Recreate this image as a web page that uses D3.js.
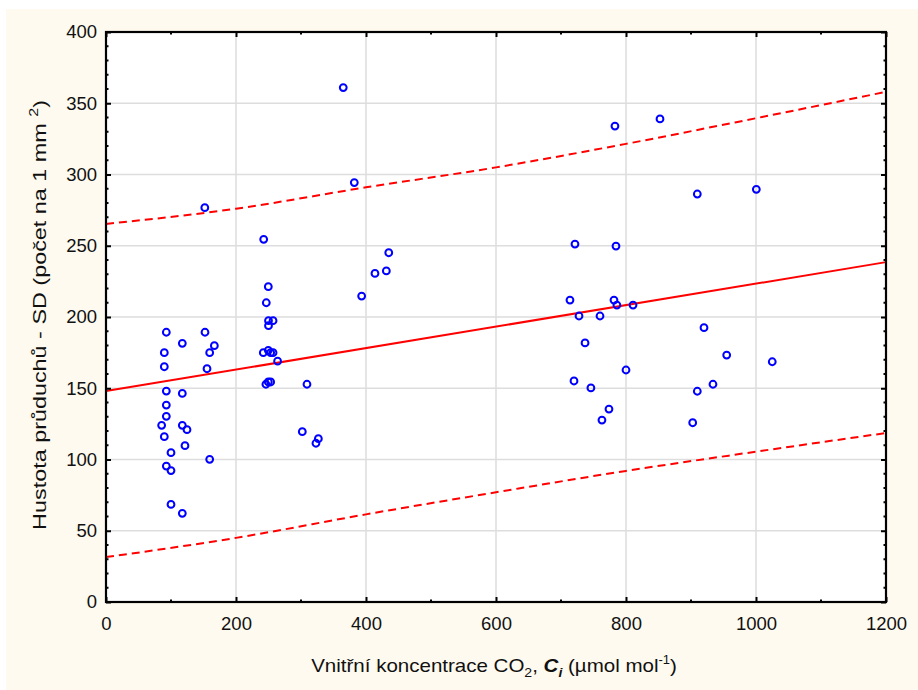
<!DOCTYPE html>
<html><head><meta charset="utf-8">
<script src="https://cdn.jsdelivr.net/npm/d3@7"></script>
<style>
html,body{margin:0;padding:0;background:#fff;}
svg{display:block;}
</style></head>
<body>
<svg id="chart" width="918" height="690"></svg>
<script>
// ---- data ----
const ciValues = [85.6,89.7,89.7,89.7,92.8,92.8,92.8,92.8,92.8,100,100,100,117.4,117.4,117.4,124.6,121.5,117.4,152,152.3,155.4,159.5,166.7,159.5,
  242.6,249.7,246.6,250,257,250,242,249.7,253.3,257,264,246,249.7,253.3,309.2,302,326.7,323,
  365,382,393.3,413.8,431.3,435,
  713.8,721.5,784.6,727.7,760,781.5,786,810.8,737,720,746,800,773.8,763,783,852.3,
  909.7,1000.5,920,954.9,1025,933.8,909.7,902.6];
const sdValues = [124,175,165.1,116,189.3,148,138.2,130.3,95.4,104.8,92.2,68.5,181.5,146.4,124,120.9,109.7,62.2,276.7,189.3,163.7,175,179.9,100.1,
  254.5,221.3,210,197.4,197.4,193.9,175,176.6,175,175,169,152.8,154.4,154.4,152.8,119.5,114.6,111.4,
  361,294.3,214.7,230.6,232.3,245.1,
  211.9,251.2,249.8,200.7,200.7,211.9,208.4,208.4,181.8,155.1,150.2,162.8,135.4,127.7,334,339,
  286.3,289.6,192.5,173.3,168.6,152.8,147.9,125.8];
const fitX = [0, 1200];
const fitY = [148, 238.5];
const bandX = [0, 200, 400, 600, 800, 1000, 1200];
const bandUpper = [265.3, 276, 291, 305, 321.5, 339.5, 358];
const bandLower = [31.5, 45, 61.5, 77, 92, 105.5, 118.6];
const xTicks = [0, 200, 400, 600, 800, 1000, 1200];
const yTicks = [0, 50, 100, 150, 200, 250, 300, 350, 400];

// ---- layout ----
const svg = d3.select("#chart");
const L = 106, R = 886, T = 32, B = 602;
const font = "'Liberation Sans', Arial, sans-serif";

svg.append("rect").attr("x", 6).attr("y", 9).attr("width", 912).attr("height", 681).attr("fill", "#fefaef");

const x = d3.scaleLinear().domain([0, 1200]).range([L, R]);
const y = d3.scaleLinear().domain([0, 400]).range([B, T]);

svg.append("rect").attr("x", L).attr("y", T).attr("width", R - L).attr("height", B - T).attr("fill", "#fff");

// grid
const grid = svg.append("g").attr("stroke", "#dddddd").attr("stroke-width", 1.5);
grid.selectAll("line.gx").data(xTicks.slice(1, -1)).join("line")
  .attr("x1", d => x(d)).attr("x2", d => x(d)).attr("y1", T).attr("y2", B);
grid.selectAll("line.gy").data(yTicks.slice(1, -1)).join("line")
  .attr("y1", d => y(d)).attr("y2", d => y(d)).attr("x1", L).attr("x2", R);

// bands & fit
const bandLine = d3.line().x((d, i) => x(bandX[i])).y(d => y(d)).curve(d3.curveMonotoneX);
svg.append("path").attr("d", bandLine(bandUpper)).attr("fill", "none")
  .attr("stroke", "#ff0000").attr("stroke-width", 2).attr("stroke-dasharray", "8,5");
svg.append("path").attr("d", bandLine(bandLower)).attr("fill", "none")
  .attr("stroke", "#ff0000").attr("stroke-width", 2).attr("stroke-dasharray", "8,5");
svg.append("path").attr("d", d3.line().x((d, i) => x(fitX[i])).y(d => y(d))(fitY))
  .attr("fill", "none").attr("stroke", "#ff0000").attr("stroke-width", 2);

// points
svg.append("g").selectAll("circle").data(ciValues).join("circle")
  .attr("cx", d => x(d)).attr("cy", (d, i) => y(sdValues[i])).attr("r", 3.4)
  .attr("fill", "none").attr("stroke", "#0000ff").attr("stroke-width", 2);

// axes
function styleAxis(g) {
  g.select(".domain").remove();
  g.selectAll(".tick line").attr("stroke", "#000").attr("stroke-width", 2);
  g.selectAll("text").attr("font-family", font).attr("font-size", 18.5).attr("fill", "#111");
}
const minorX = d3.range(100, 1200, 200);
const minorY = d3.range(0, 401, 10).filter(v => v % 50 !== 0);

svg.append("g").attr("transform", `translate(0,${B})`)
  .call(d3.axisBottom(x).tickValues(xTicks).tickFormat(d3.format("d")).tickSizeInner(-5).tickSizeOuter(0).tickPadding(15))
  .call(styleAxis);
svg.append("g").attr("transform", `translate(0,${T})`)
  .call(d3.axisTop(x).tickValues(xTicks).tickFormat("").tickSizeInner(-5).tickSizeOuter(0))
  .call(styleAxis);
svg.append("g").attr("transform", `translate(${L},0)`)
  .call(d3.axisLeft(y).tickValues(yTicks).tickFormat(d3.format("d")).tickSizeInner(-5).tickSizeOuter(0).tickPadding(9))
  .call(styleAxis);
svg.append("g").attr("transform", `translate(${R},0)`)
  .call(d3.axisRight(y).tickValues(yTicks).tickFormat("").tickSizeInner(-5).tickSizeOuter(0))
  .call(styleAxis);
// minor ticks
const mt = svg.append("g").attr("stroke", "#000").attr("stroke-width", 2);
minorX.forEach(v => {
  mt.append("line").attr("x1", x(v)).attr("x2", x(v)).attr("y1", B).attr("y2", B - 2.5);
  mt.append("line").attr("x1", x(v)).attr("x2", x(v)).attr("y1", T).attr("y2", T + 2.5);
});
minorY.forEach(v => {
  mt.append("line").attr("y1", y(v)).attr("y2", y(v)).attr("x1", L).attr("x2", L + 2.5);
  mt.append("line").attr("y1", y(v)).attr("y2", y(v)).attr("x1", R).attr("x2", R - 2.5);
});

// frame
svg.append("rect").attr("x", L).attr("y", T).attr("width", R - L).attr("height", B - T)
  .attr("fill", "none").attr("stroke", "#000").attr("stroke-width", 2.2);

// titles
const xg = svg.append("g");
const xt = xg.append("text").attr("x", 0).attr("y", 0).attr("text-anchor", "middle")
  .attr("font-family", font).attr("font-size", 19).attr("fill", "#111");
xt.append("tspan").text("Vnitřní koncentrace CO");
xt.append("tspan").attr("font-size", 13).attr("dy", 5).text("2");
xt.append("tspan").attr("dy", -5).text(", ");
xt.append("tspan").attr("font-weight", "bold").attr("font-style", "italic").text("C");
xt.append("tspan").attr("font-weight", "bold").attr("font-style", "italic").attr("font-size", 13).attr("dy", 5).text("i");
xt.append("tspan").attr("dy", -5).text(" (µmol mol");
xt.append("tspan").attr("font-size", 12).attr("dy", -8).text("-1");
xt.append("tspan").attr("dy", 8).text(")");
const xw = xt.node().getBBox().width;
xg.attr("transform", `translate(494,672) scale(${366 / xw},1)`);

const yg = svg.append("g");
const yt = yg.append("text").attr("x", 0).attr("y", 0).attr("text-anchor", "middle")
  .attr("font-family", font).attr("font-size", 19).attr("fill", "#111");
yt.append("tspan").text("Hustota průduchů - SD (počet na 1 mm ");
yt.append("tspan").attr("font-size", 13).attr("dy", -8).text("2");
yt.append("tspan").attr("dy", 8).text(")");
const yw = yt.node().getBBox().width;
yg.attr("transform", `translate(46,315) rotate(-90) scale(${430 / yw},1)`);
</script>
</body></html>
